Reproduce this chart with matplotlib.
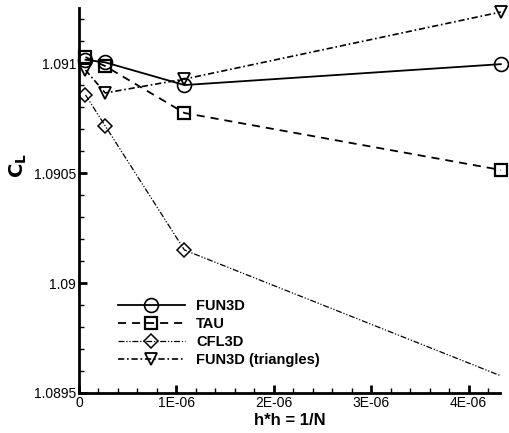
import matplotlib
matplotlib.use("Agg")
import matplotlib.pyplot as plt
from matplotlib.ticker import MultipleLocator, FuncFormatter

plt.rcParams['font.family'] = ['Liberation Sans', 'DejaVu Sans']
plt.rcParams['lines.scale_dashes'] = False

# h*h = 1/N for the four grids
h2 = [0.0677e-6, 0.2707e-6, 1.083e-6, 4.33e-6]
cl_fun3d = [1.091015, 1.091003, 1.090900, 1.090995]
cl_tau = [1.091027, 1.090986, 1.090773, 1.090514]
cl_fun3d_tri = [1.090968, 1.090864, 1.090927, 1.091232]
# CFL3D coarse grid lies outside the plotted range
h2_cfl3d = [0.0677e-6, 0.2707e-6, 1.083e-6, 5.0e-6]
cl_cfl3d = [1.090855, 1.090714, 1.090150, 1.089460]

fig = plt.figure(figsize=(5.09, 4.33), dpi=100)
ax = fig.add_axes([0.155, 0.0924, 0.827, 0.889])

ax.plot(h2, cl_fun3d, color='black', lw=1.3, ls='-', marker='o', ms=10,
        mfc='none', mec='black', mew=1.2, label='FUN3D', clip_on=False)
ax.plot(h2, cl_tau, color='black', lw=1.3, ls=(0, (5.8, 4.3)), marker='s',
        ms=8.5, mfc='none', mec='black', mew=1.6, label='TAU', clip_on=False)
ax.plot(h2_cfl3d, cl_cfl3d, color='black', lw=0.9,
        ls=(0, (4.3, 1.3, 0.9, 1.3, 0.9, 1.3)), marker='D', ms=7.5,
        mfc='none', mec='black', mew=1.1, label='CFL3D')
ax.plot(h2, cl_fun3d_tri, color='black', lw=1.2, ls=(0, (4.5, 2.0, 1.2, 2.0)),
        marker='v', ms=9, mfc='none', mec='black', mew=1.3,
        label='FUN3D (triangles)', clip_on=False)

ax.set_xlim(0, 4.32e-6)
ax.set_ylim(1.0895, 1.09125)

ax.xaxis.set_major_locator(MultipleLocator(1e-6))
ax.xaxis.set_minor_locator(MultipleLocator(0.2e-6))
ax.yaxis.set_major_locator(MultipleLocator(0.0005))
ax.yaxis.set_minor_locator(MultipleLocator(0.0001))


def xfmt(v, pos):
    if abs(v) < 1e-12:
        return '0'
    return '%dE-06' % round(v * 1e6)


def yfmt(v, pos):
    return ('%.4f' % v).rstrip('0')


ax.xaxis.set_major_formatter(FuncFormatter(xfmt))
ax.yaxis.set_major_formatter(FuncFormatter(yfmt))

ax.spines['top'].set_visible(False)
ax.spines['right'].set_visible(False)
ax.spines['left'].set_linewidth(2)
ax.spines['bottom'].set_linewidth(2)
ax.tick_params(which='both', direction='in', top=False, right=False,
               labelsize=10, color='black')
ax.tick_params(which='major', length=6, width=2, pad=2)
ax.tick_params(which='minor', length=3.5, width=1)

ax.set_xlabel('h*h = 1/N', fontsize=12, fontweight='bold', labelpad=2)
ax.set_ylabel(r'$\mathbf{C}_\mathbf{L}$', fontsize=14)
ax.yaxis.set_label_coords(-0.118, 0.59)

leg = ax.legend(loc='upper left', bbox_to_anchor=(0.092, 0.245), frameon=False,
                handlelength=4.6, handletextpad=0.8,
                labelspacing=0.28, borderpad=0, borderaxespad=0, numpoints=1,
                prop={'weight': 'bold', 'size': 10.5})

fig.savefig('out.png', dpi=100)
